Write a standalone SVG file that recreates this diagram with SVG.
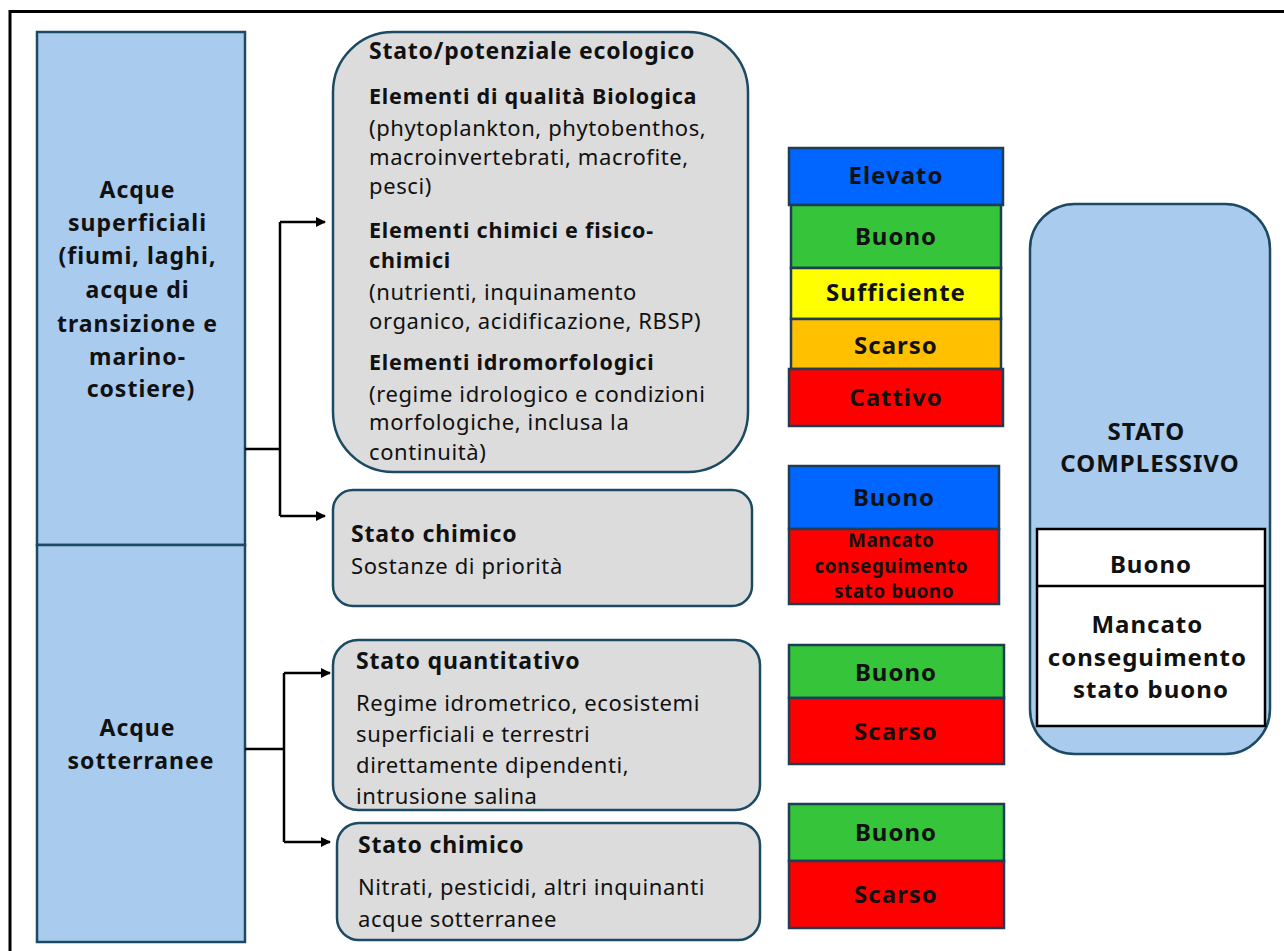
<svg xmlns="http://www.w3.org/2000/svg" width="1284" height="951" viewBox="0 0 1284 951">
<defs>
<marker id="arr" markerWidth="10" markerHeight="10" refX="9" refY="5" orient="auto" markerUnits="userSpaceOnUse">
<path d="M0,0 L10,5 L0,10 z" fill="#000"/>
</marker>
<style>
text{font-family:"Noto Sans","Open Sans","Liberation Sans",sans-serif;fill:#111;}
.b{font-weight:bold;}
.lb{fill:#a9cbee;stroke:#1c4a63;stroke-width:2.5;}
.gr{fill:#dcdcdc;stroke:#1c4a63;stroke-width:2.5;}
.bar{stroke:#1c3f55;stroke-width:2.5;}
.body{font-size:22px;letter-spacing:0.6px;}
.head{font-size:23px;font-weight:bold;letter-spacing:0.8px;}
.sub{font-size:21.5px;font-weight:bold;letter-spacing:0.8px;}
.left{font-size:23px;font-weight:bold;letter-spacing:1px;text-anchor:middle;}
.bt{font-size:24px;font-weight:bold;letter-spacing:1px;text-anchor:middle;}
.c{text-anchor:middle;}
.conn{fill:none;stroke:#000;stroke-width:2.5;}
</style>
</defs>
<rect width="1284" height="951" fill="#fff"/>
<path d="M10,951 V11.5 H1284" fill="none" stroke="#000" stroke-width="3"/>

<g id="acque-superficiali">
<rect class="lb" x="37" y="32" width="208" height="513"/>
<text class="left">
<tspan x="141" y="198">Acque</tspan>
<tspan x="141" y="231">superficiali</tspan>
<tspan x="141" y="264">(fiumi, laghi,</tspan>
<tspan x="141" y="298">acque di</tspan>
<tspan x="141" y="332">transizione e</tspan>
<tspan x="141" y="365">marino-</tspan>
<tspan x="141" y="397">costiere)</tspan>
</text>
</g>
<g id="acque-sotterranee">
<rect class="lb" x="37" y="545" width="208" height="397"/>
<text class="left">
<tspan x="141" y="736">Acque</tspan>
<tspan x="141" y="769">sotterranee</tspan>
</text>
</g>

<g id="connectors">
<path class="conn" d="M245,449 H280 M280,222 V516"/>
<path class="conn" d="M280,222 H325" marker-end="url(#arr)"/>
<path class="conn" d="M280,516 H325" marker-end="url(#arr)"/>
<path class="conn" d="M245,749 H284 M284,673 V842"/>
<path class="conn" d="M284,673 H330" marker-end="url(#arr)"/>
<path class="conn" d="M284,842 H330" marker-end="url(#arr)"/>
</g>

<g id="stato-ecologico">
<rect class="gr" x="333" y="32" width="415" height="440" rx="60"/>
<text class="head" x="369" y="59">Stato/potenziale ecologico</text>
<text class="sub" x="369" y="104">Elementi di qualità Biologica</text>
<text class="body">
<tspan x="369" y="136">(phytoplankton, phytobenthos,</tspan>
<tspan x="369" y="165">macroinvertebrati, macrofite,</tspan>
<tspan x="369" y="194">pesci)</tspan>
</text>
<text class="sub">
<tspan x="369" y="238">Elementi chimici e fisico-</tspan>
<tspan x="369" y="268">chimici</tspan>
</text>
<text class="body">
<tspan x="369" y="300">(nutrienti, inquinamento</tspan>
<tspan x="369" y="329">organico, acidificazione, RBSP)</tspan>
</text>
<text class="sub" x="369" y="370">Elementi idromorfologici</text>
<text class="body">
<tspan x="369" y="402">(regime idrologico e condizioni</tspan>
<tspan x="369" y="430">morfologiche, inclusa la</tspan>
<tspan x="369" y="460">continuità)</tspan>
</text>
</g>

<g id="stato-chimico-sup">
<rect class="gr" x="333" y="490" width="419" height="116" rx="20"/>
<text class="head" x="351" y="542">Stato chimico</text>
<text class="body" x="351" y="574">Sostanze di priorità</text>
</g>

<g id="stato-quantitativo">
<rect class="gr" x="333" y="640" width="427" height="170" rx="25"/>
<text class="head" x="356" y="669">Stato quantitativo</text>
<text class="body">
<tspan x="356" y="711">Regime idrometrico, ecosistemi</tspan>
<tspan x="356" y="742">superficiali  e terrestri</tspan>
<tspan x="356" y="773">direttamente dipendenti,</tspan>
<tspan x="356" y="804">intrusione salina</tspan>
</text>
</g>

<g id="stato-chimico-sott">
<rect class="gr" x="337" y="823" width="423" height="117" rx="22"/>
<text class="head" x="358" y="853">Stato chimico</text>
<text class="body">
<tspan x="358" y="895">Nitrati, pesticidi, altri inquinanti</tspan>
<tspan x="358" y="927">acque sotterranee</tspan>
</text>
</g>

<g id="classi-ecologico">
<rect class="bar" x="789" y="148" width="214" height="57" fill="#0066ff"/>
<rect class="bar" x="791" y="205" width="210" height="63" fill="#36c43a"/>
<rect class="bar" x="791" y="268" width="210" height="51" fill="#ffff00"/>
<rect class="bar" x="791" y="319" width="210" height="50" fill="#ffc000"/>
<rect class="bar" x="789" y="369" width="214" height="57" fill="#ff0000"/>
<text class="bt" x="896" y="184">Elevato</text>
<text class="bt" x="896" y="245">Buono</text>
<text class="bt" x="896" y="301">Sufficiente</text>
<text class="bt" x="896" y="354">Scarso</text>
<text class="bt" x="896" y="406">Cattivo</text>
</g>

<g id="classi-chimico-sup">
<rect class="bar" x="789" y="466" width="210" height="63" fill="#0066ff"/>
<rect class="bar" x="789" y="529" width="210" height="75" fill="#ff0000"/>
<text class="bt" x="894" y="506">Buono</text>
<text class="b c" font-size="19" letter-spacing="0.5">
<tspan x="894" y="547">Mancato</tspan>
<tspan x="894" y="573">conseguimento</tspan>
<tspan x="894" y="598">stato buono</tspan>
</text>
</g>

<g id="classi-quantitativo">
<rect class="bar" x="789" y="645" width="215" height="53" fill="#36c43a"/>
<rect class="bar" x="789" y="698" width="215" height="66" fill="#ff0000"/>
<text class="bt" x="896" y="681">Buono</text>
<text class="bt" x="896" y="740">Scarso</text>
</g>

<g id="classi-chimico-sott">
<rect class="bar" x="789" y="804" width="215" height="57" fill="#36c43a"/>
<rect class="bar" x="789" y="861" width="215" height="67" fill="#ff0000"/>
<text class="bt" x="896" y="841">Buono</text>
<text class="bt" x="896" y="903">Scarso</text>
</g>

<g id="stato-complessivo">
<rect class="lb" x="1030" y="204" width="240" height="550" rx="45"/>
<text class="bt" letter-spacing="1.5">
<tspan x="1150" y="440">STATO</tspan>
<tspan x="1150" y="472">COMPLESSIVO</tspan>
</text>
<rect x="1037" y="529" width="228" height="197" fill="#fff" stroke="#000" stroke-width="2.5"/>
<line x1="1037" y1="586" x2="1265" y2="586" stroke="#000" stroke-width="2.5"/>
<text class="bt" letter-spacing="0.6" x="1151" y="573">Buono</text>
<text class="bt" letter-spacing="0.6">
<tspan x="1151" y="633">Mancato</tspan>
<tspan x="1151" y="666">conseguimento</tspan>
<tspan x="1151" y="698">stato buono</tspan>
</text>
</g>
</svg>
